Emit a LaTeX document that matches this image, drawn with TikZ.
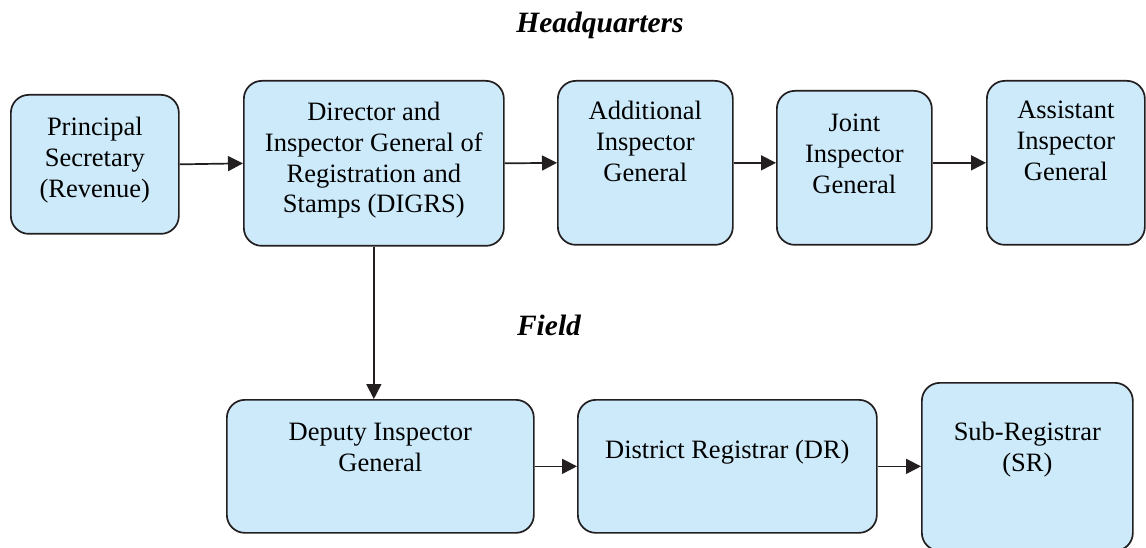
\documentclass[tikz,border=0pt]{standalone}
\usepackage{fontspec}
\setmainfont{Liberation Serif}
\usetikzlibrary{arrows.meta}
\definecolor{boxfill}{RGB}{205,234,250}
\definecolor{boxline}{RGB}{35,31,32}

\begin{document}
\begin{tikzpicture}[x=1pt,y=-1pt,
        office/.style={draw=boxline, fill=boxfill, line width=1.7pt, rounded corners=18pt,
            anchor=north west, inner sep=0pt, align=flush center,
            font=\fontsize{26.5}{30.7}\selectfont},
        flow/.style={draw=boxline, line width=1.7pt, -{Triangle[length=15pt,width=15pt]}},
        heading/.style={anchor=base, font=\fontsize{29.5}{34}\selectfont\bfseries\itshape}]
    \useasboundingbox (0,0) rectangle (1146,548);

    % headquarters
    \node[heading] (hq) at (600,33) {Headquarters};
    \node[office, text width=168pt, text height=41pt, text depth=98pt] (ps) at (10,94) {Principal\\Secretary\\(Revenue)};
    \node[office, text width=260pt, text height=40pt, text depth=125pt] (digrs) at (243,80) {Director and\\Inspector General of\\Registration and\\Stamps (DIGRS)};
    \node[office, text width=175pt, text height=39pt, text depth=125pt] (aig) at (557,80) {Additional\\Inspector\\General};
    \node[office, text width=155pt, text height=41pt, text depth=113pt] (jig) at (776,90) {Joint\\Inspector\\General};
    \node[office, text width=158pt, text height=38pt, text depth=126pt] (asig) at (986,80) {Assistant\\Inspector\\General};

    % field
    \node[heading] (field) at (549,335) {Field};
    \node[office, text width=307pt, text height=41pt, text depth=92pt] (dig) at (226,399) {Deputy Inspector\\General};
    \node[office, text width=299pt, text height=59pt, text depth=74pt] (dr) at (577,399) {District Registrar (DR)};
    \node[office, text width=211pt, text height=58pt, text depth=110pt] (sr) at (921,382) {Sub-Registrar\\(SR)};

    \draw[flow] (ps.east) -- (digrs.west);
    \draw[flow] (digrs.east) -- (aig.west);
    \draw[flow] (aig.east) -- (aig.east -| jig.west);
    \draw[flow] (asig.west -| jig.east) -- (asig.west);
    \draw[flow] (digrs.south) -- (digrs.south |- dig.north);
    \draw[flow] (dig.east) -- (dr.west);
    \draw[flow] (dr.east) -- (dr.east -| sr.west);
\end{tikzpicture}
\end{document}
